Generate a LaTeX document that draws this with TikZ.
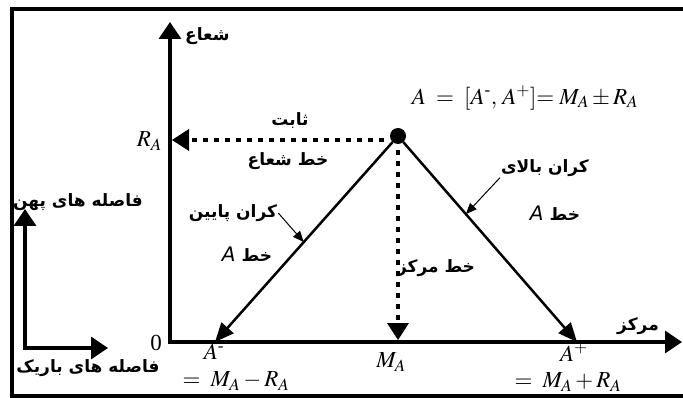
\documentclass[tikz,border=0pt]{standalone}
\usepackage{amsmath}
\usepackage{mathptmx}
\usepackage{fontspec}
\setmainfont{Liberation Serif}
\newfontfamily\fafont[Script=Arabic]{DejaVu Sans}
\TeXXeTstate=1
\usetikzlibrary{arrows.meta,positioning,calc}

\begin{document}
\begin{tikzpicture}[x=1pt, y=-1pt,
    frame/.style={line width=3.5pt, line cap=rect},
    axis/.style={line width=3.5pt, line join=miter},
    edge/.style={line width=2.5pt, -{Triangle[length=19pt,width=16pt]}},
    guide/.style={line width=4.5pt, dash pattern=on 5pt off 6pt, -{Triangle[length=17pt,width=22pt,line width=0pt]}},
    pointer/.style={line width=1pt, -{Triangle[length=11pt,width=9pt]}},
    fa/.style={font=\fontsize{17}{20}\selectfont\fafont\bfseries, inner sep=1pt},
    lbl/.style={font=\fontsize{23}{26}\selectfont, inner sep=0pt},
]
    \useasboundingbox (0,0) rectangle (683,398);
    \draw[frame] (683,9) -- (12,9) -- (12,396) -- (683,396);

    % axes
    \coordinate (O) at (170,342);
    \coordinate (Ytip) at (170,22);
    \coordinate (Xtip) at (682,342);
    \draw[axis, {Triangle[length=17pt,width=22pt]}-{Triangle[length=17pt,width=22pt]}] (Ytip) -- (O) -- (Xtip);
    \node[lbl, anchor=south east] (zero) at (162,351) {0};
    \node[fa, anchor=south west] (radlbl) at (184,46) {\beginR شعاع\endR};
    \node[fa, anchor=south] (cenlbl) at (638,336) {\beginR مرکز\endR};

    % triangle
    \node[circle, fill, inner sep=0pt, minimum size=16pt] (apex) at (398,136) {};
    \coordinate (Am) at (215,342);
    \coordinate (Ap) at (577,342);
    \coordinate (MA) at (398,340);
    \coordinate (RA) at (172,140);
    \draw[edge] (apex) -- (Am) coordinate[pos=0.5] (lowpt);
    \draw[edge] (apex) -- (Ap) coordinate[pos=0.36] (uppt);
    \draw[guide] (apex.west |- RA) ++(-6,0) -- (RA);
    \draw[guide] (apex.south) ++(0,6) -- (MA);

    % labels
    \node[lbl] (formula) at (525,98) {$A\;=\;[A^{\text{-}},\,A^{+}]{=}\;M_A\pm R_A$};
    \node[lbl, anchor=east] (RAlbl) at (162,141) {$R_A$};
    \node[lbl] (Amlbl) at (214,352) {$A^{\text{-}}$};
    \node[lbl] (Amval) at (236,381) {$=\;M_A-R_A$};
    \node[lbl] (MAlbl) at (391,362) {$M_A$};
    \node[lbl] (Aplbl) at (574,352) {$A^{+}$};
    \node[lbl] (Apval) at (568,382) {$=\;M_A+R_A$};

    \node[fa] (fixlbl) at (290,121) {\beginR ثابت\endR};
    \node[fa] (radline) at (288,161) {\beginR خط شعاع\endR};
    \node[fa] (uplbl) at (545,168) {\beginR کران بالای\endR};
    \node[fa] (upA) at (555,213) {{\mdseries\itshape\fontsize{20}{22}\selectfont A}\ \beginR خط\endR};
    \node[fa] (lowlbl) at (233,213) {\beginR کران پایین\endR};
    \node[fa] (lowA) at (247,254) {{\mdseries\itshape\fontsize{20}{22}\selectfont A}\ \beginR خط\endR};
    \node[fa] (cenline) at (436,268) {\beginR خط مرکز\endR};
    \draw[pointer] (uplbl.south west) -- (uppt);
    \draw[pointer] (lowlbl.east) -- (lowpt);

    % small axes
    \coordinate (s0) at (25,348);
    \coordinate (sY) at (25,209);
    \coordinate (sX) at (108,348);
    \draw[axis, {Triangle[length=17pt,width=22pt]}-{Triangle[length=17pt,width=22pt]}] (sY) -- (s0) -- (sX);
    \node[fa] (widelbl) at (78,202) {\beginR فاصله های پهن\endR};
    \node[fa] (narrowlbl) at (88,368) {\beginR فاصله های باریک\endR};
\end{tikzpicture}
\end{document}
